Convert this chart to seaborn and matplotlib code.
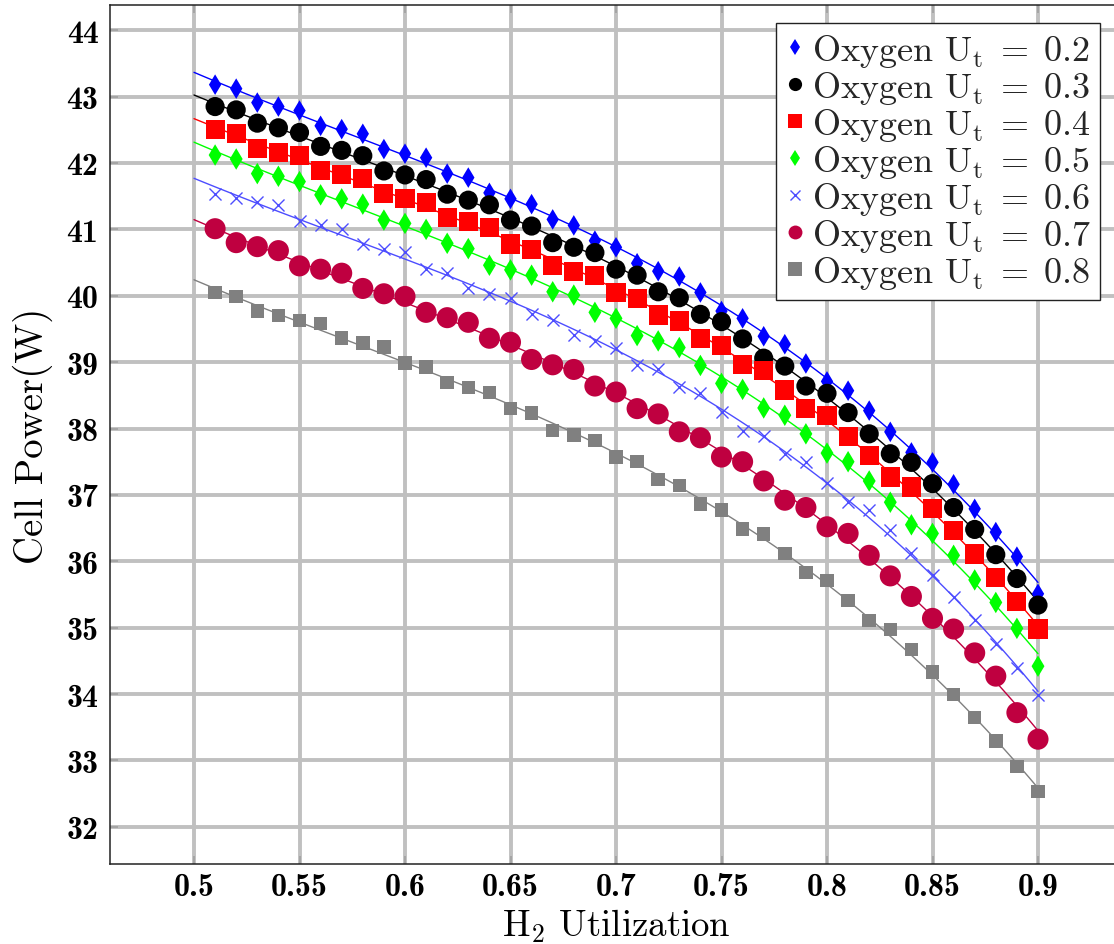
import matplotlib
matplotlib.use("Agg")
import numpy as np
import pandas as pd
import seaborn as sns
import matplotlib.pyplot as plt
from matplotlib.lines import Line2D

# Hydrogen utilization sampled at each operating point
h2_utilization = [0.51, 0.52, 0.53, 0.54, 0.55, 0.56, 0.57, 0.58, 0.59, 0.60,
                  0.61, 0.62, 0.63, 0.64, 0.65, 0.66, 0.67, 0.68, 0.69, 0.70,
                  0.71, 0.72, 0.73, 0.74, 0.75, 0.76, 0.77, 0.78, 0.79, 0.80,
                  0.81, 0.82, 0.83, 0.84, 0.85, 0.86, 0.87, 0.88, 0.89, 0.90]

# Cell power (W) for each oxygen utilization level
power_ut_02 = [43.18, 43.12, 42.91, 42.85, 42.79, 42.56, 42.51, 42.44, 42.21, 42.14,
               42.08, 41.84, 41.78, 41.55, 41.46, 41.38, 41.15, 41.06, 40.83, 40.73,
               40.49, 40.37, 40.29, 40.05, 39.77, 39.66, 39.39, 39.27, 38.98, 38.71,
               38.57, 38.27, 37.95, 37.64, 37.49, 37.16, 36.79, 36.44, 36.07, 35.51]
power_ut_03 = [42.85, 42.80, 42.60, 42.53, 42.46, 42.25, 42.19, 42.11, 41.88, 41.82,
               41.75, 41.53, 41.44, 41.37, 41.14, 41.05, 40.80, 40.73, 40.65, 40.40,
               40.31, 40.06, 39.97, 39.72, 39.61, 39.35, 39.06, 38.94, 38.64, 38.53,
               38.24, 37.92, 37.62, 37.49, 37.17, 36.81, 36.48, 36.10, 35.74, 35.34]
power_ut_04 = [42.51, 42.45, 42.22, 42.16, 42.11, 41.89, 41.83, 41.76, 41.54, 41.47,
               41.40, 41.18, 41.12, 41.03, 40.78, 40.70, 40.46, 40.36, 40.31, 40.05,
               39.96, 39.71, 39.62, 39.35, 39.25, 38.96, 38.88, 38.58, 38.30, 38.19,
               37.88, 37.59, 37.27, 37.12, 36.80, 36.46, 36.11, 35.76, 35.39, 34.98]
power_ut_05 = [42.12, 42.06, 41.84, 41.80, 41.72, 41.52, 41.46, 41.38, 41.14, 41.09,
               41.00, 40.79, 40.71, 40.46, 40.39, 40.31, 40.06, 40.01, 39.75, 39.66,
               39.40, 39.32, 39.22, 38.95, 38.68, 38.59, 38.31, 38.20, 37.92, 37.63,
               37.50, 37.21, 36.89, 36.55, 36.42, 36.09, 35.72, 35.38, 34.99, 34.42]
power_ut_06 = [41.53, 41.47, 41.41, 41.37, 41.12, 41.06, 41.00, 40.78, 40.70, 40.66,
               40.41, 40.35, 40.11, 40.02, 39.96, 39.73, 39.63, 39.41, 39.32, 39.21,
               38.96, 38.89, 38.62, 38.53, 38.25, 37.97, 37.89, 37.61, 37.49, 37.18,
               36.90, 36.78, 36.47, 36.13, 35.80, 35.46, 35.11, 34.76, 34.39, 33.99]
power_ut_07 = [41.01, 40.80, 40.74, 40.68, 40.45, 40.40, 40.34, 40.11, 40.03, 39.99,
               39.75, 39.67, 39.60, 39.36, 39.30, 39.04, 38.96, 38.89, 38.64, 38.55,
               38.30, 38.22, 37.95, 37.86, 37.57, 37.50, 37.21, 36.92, 36.81, 36.52,
               36.42, 36.09, 35.78, 35.47, 35.14, 34.98, 34.62, 34.27, 33.72, 33.32]
power_ut_08 = [40.05, 39.99, 39.77, 39.70, 39.63, 39.58, 39.36, 39.29, 39.23, 38.99,
               38.93, 38.69, 38.62, 38.54, 38.30, 38.23, 37.97, 37.90, 37.82, 37.57,
               37.50, 37.23, 37.14, 36.86, 36.77, 36.49, 36.41, 36.12, 35.83, 35.71,
               35.41, 35.11, 34.97, 34.67, 34.33, 33.99, 33.65, 33.29, 32.91, 32.53]

oxygen_ut = ["0.2", "0.3", "0.4", "0.5", "0.6", "0.7", "0.8"]
x_ticks = [0.5, 0.55, 0.6, 0.65, 0.7, 0.75, 0.8, 0.85, 0.9]
x_tick_labels = ["0.5", "0.55", "0.6", "0.65", "0.7", "0.75", "0.8", "0.85", "0.9"]
y_ticks = [32, 33, 34, 35, 36, 37, 38, 39, 40, 41, 42, 43, 44]

series = [power_ut_02, power_ut_03, power_ut_04, power_ut_05,
          power_ut_06, power_ut_07, power_ut_08]

df = pd.DataFrame({
    "h2": np.tile(h2_utilization, len(oxygen_ut)),
    "power": np.concatenate(series),
    "ut": np.repeat(oxygen_ut, len(h2_utilization)),
})

# marker style per series
styles = {
    "0.2": dict(color="#0000FF", marker="d", s=110, leg=8.5),
    "0.3": dict(color="#000000", marker="o", s=190, leg=9.5),
    "0.4": dict(color="#FF0000", marker="s", s=190, leg=9.5),
    "0.5": dict(color="#00FF00", marker="d", s=120, leg=8.5),
    "0.6": dict(color="#4D4DFF", marker="x", s=75, leg=7.0),
    "0.7": dict(color="#BF0040", marker="o", s=230, leg=10.0),
    "0.8": dict(color="#808080", marker="s", s=95, leg=10.5),
}

sns.set_theme(style="white")
plt.rcParams.update({
    "font.family": ["cmr10", "DejaVu Serif"],
    "mathtext.fontset": "cm",
    "axes.unicode_minus": False,
    "axes.formatter.use_mathtext": True,
})

fig = plt.figure(figsize=(11.14, 9.45), dpi=100)
ax = fig.add_axes([109.6 / 1114, 80 / 945, 1012.8 / 1114, 859 / 945])
ax.set_axisbelow(True)

# fitted trend curves spanning the sampled utilization range
ax.set_xlim(0.5, 0.9)
for ut in oxygen_ut:
    sub = df[df["ut"] == ut]
    st = styles[ut]
    sns.regplot(data=sub, x="h2", y="power", ax=ax, order=3, ci=None,
                scatter=False, truncate=False,
                line_kws=dict(color=st["color"], lw=1.0, zorder=2))

# measured points
for ut in oxygen_ut:
    sub = df[df["ut"] == ut]
    st = styles[ut]
    if st["marker"] == "x":
        sns.scatterplot(data=sub, x="h2", y="power", ax=ax, marker="x",
                        s=st["s"], color=st["color"], linewidth=1.0, zorder=3)
    else:
        sns.scatterplot(data=sub, x="h2", y="power", ax=ax, marker=st["marker"],
                        s=st["s"], color=st["color"], edgecolor="none",
                        linewidth=0, zorder=3)

ax.set_xlim(0.46, 0.94)
ax.set_ylim(31.44, 44.38)
ax.set_xticks(x_ticks)
ax.set_xticklabels(x_tick_labels)
ax.set_yticks(y_ticks)
ax.set_yticklabels([str(v) for v in y_ticks])

ax.grid(True, color="#C0C0C0", lw=2.8)
for sp in ax.spines.values():
    sp.set_color("#222222")
    sp.set_linewidth(1.1)

ax.tick_params(axis="both", direction="in", length=6, width=1.2,
               color="#A0A0A0", top=True, right=True, bottom=True, left=True)
ax.tick_params(axis="x", pad=6)
ax.tick_params(axis="y", pad=8)
for lab in ax.get_xticklabels() + ax.get_yticklabels():
    lab.set_fontfamily("cmb10")
    lab.set_fontsize(23)
    lab.set_color("black")

ax.set_xlabel(r"$\mathrm{H_2}$ Utilization", fontsize=26.5, color="black", labelpad=4)
ax.set_ylabel("Cell Power(W)", fontsize=28, color="black", labelpad=10)

handles = [
    Line2D([], [], linestyle="none", marker=styles[ut]["marker"],
           markersize=styles[ut]["leg"], color=styles[ut]["color"],
           markeredgewidth=(1.0 if styles[ut]["marker"] == "x" else 0))
    for ut in oxygen_ut
]
labels = [r"Oxygen $\mathrm{U_t}\;=\;%s$" % ut for ut in oxygen_ut]
leg = fig.legend(handles, labels, loc="upper right",
                 bbox_to_anchor=(1100 / 1114, 1 - 24 / 945),
                 bbox_transform=fig.transFigure, borderaxespad=0,
                 fontsize=26, frameon=True, fancybox=False,
                 edgecolor="#222222", framealpha=1.0,
                 handlelength=0.55, handletextpad=0.2, labelspacing=0.0,
                 borderpad=0.25)
leg.get_frame().set_linewidth(1.0)

fig.savefig("out.png", dpi=100)
